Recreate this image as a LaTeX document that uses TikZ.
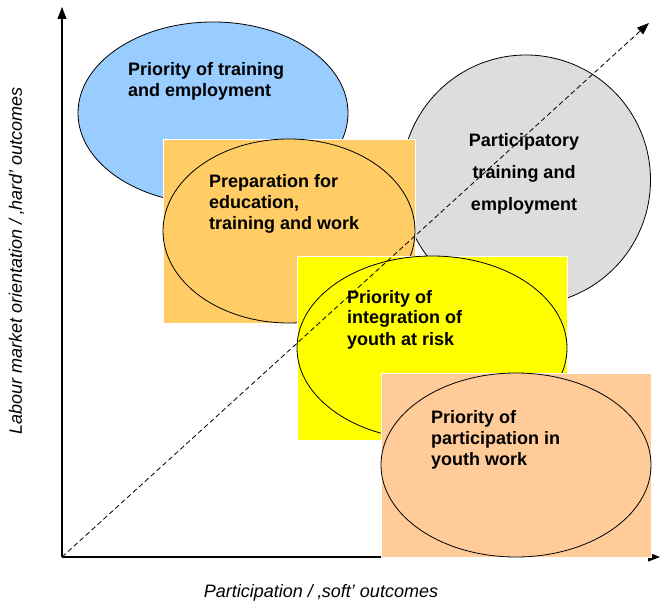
\documentclass[tikz,border=0pt]{standalone}
\usepackage{fontspec}
\setmainfont{Liberation Sans}
\usetikzlibrary{shapes.geometric,arrows.meta}
\definecolor{skyblue}{HTML}{99CCFF}
\definecolor{lightgrey}{HTML}{DDDDDD}
\definecolor{gold}{HTML}{FFCC66}
\definecolor{lemon}{HTML}{FFFF00}
\definecolor{peach}{HTML}{FFCC99}

\begin{document}
\begin{tikzpicture}[x=1pt,y=1pt,>={Triangle[length=12pt,width=9pt]},line join=round,
	font=\fontsize{18}{21}\selectfont\bfseries,
	box/.style={draw=white,line width=0.6pt,minimum width=#1,minimum height=184pt,inner sep=0pt},
	blob/.style={ellipse,draw,line width=0.8pt,inner sep=0pt},
	lbl/.style={anchor=base west,align=left,inner sep=0pt},
	axlbl/.style={font=\fontsize{18}{21}\selectfont\itshape,inner sep=0pt}]
		\useasboundingbox (-62,-46) rectangle (599,557);
		\coordinate (o) at (0,0);
		\coordinate (xend) at (598,0);
		\coordinate (yend) at (0,550);
		\coordinate (dend) at (587,534);
		% axes
		\draw[line width=1.2pt,->] (o)--(yend);
		\draw[line width=1.2pt,->] (o)--(xend);
		\node[axlbl,anchor=base] (xlab) at (259,-40) {Participation / ‚soft’ outcomes};
		\node[axlbl,anchor=base,rotate=90] (ylab) at (-40,296) {Labour market orientation / ‚hard’ outcomes};
		% the five fields
		\node[blob,fill=skyblue,minimum width=270pt,minimum height=182pt] (train) at (151,444) {};
		\node[blob,fill=lightgrey,minimum width=249pt,minimum height=250pt] (partic) at (464,377) {};
		\node[box=252pt,fill=gold] (prepbox) at (227,326) {};
		\node[blob,fill=gold,minimum width=252pt,minimum height=184pt] (prep) at (prepbox) {};
		\node[box=270pt,fill=lemon] (youthbox) at (370,209) {};
		\node[blob,fill=lemon,minimum width=270pt,minimum height=184pt] (youth) at (youthbox) {};
		\node[box=270pt,fill=peach] (workbox) at (454,92) {};
		\node[blob,fill=peach,minimum width=270pt,minimum height=184pt] (work) at (workbox) {};
		% texts (base = last line)
		\node[lbl] (ttrain) at (66,460) {Priority of training\\and employment};
		\node[lbl] (tprep) at (147,327) {Preparation for\\education,\\training and work};
		\node[anchor=base,align=center,inner sep=0pt,font=\fontsize{18}{32}\selectfont\bfseries] (tpartic) at (462,346) {Participatory\\training and\\employment};
		\node[lbl] (tyouth) at (285,212) {Priority of\\integration of\\youth at risk};
		\node[lbl] (twork) at (369,92) {Priority of\\participation in\\youth work};
		\draw[dash pattern=on 5pt off 3pt,line width=0.8pt,->] (o)--(dend);
\end{tikzpicture}
\end{document}
